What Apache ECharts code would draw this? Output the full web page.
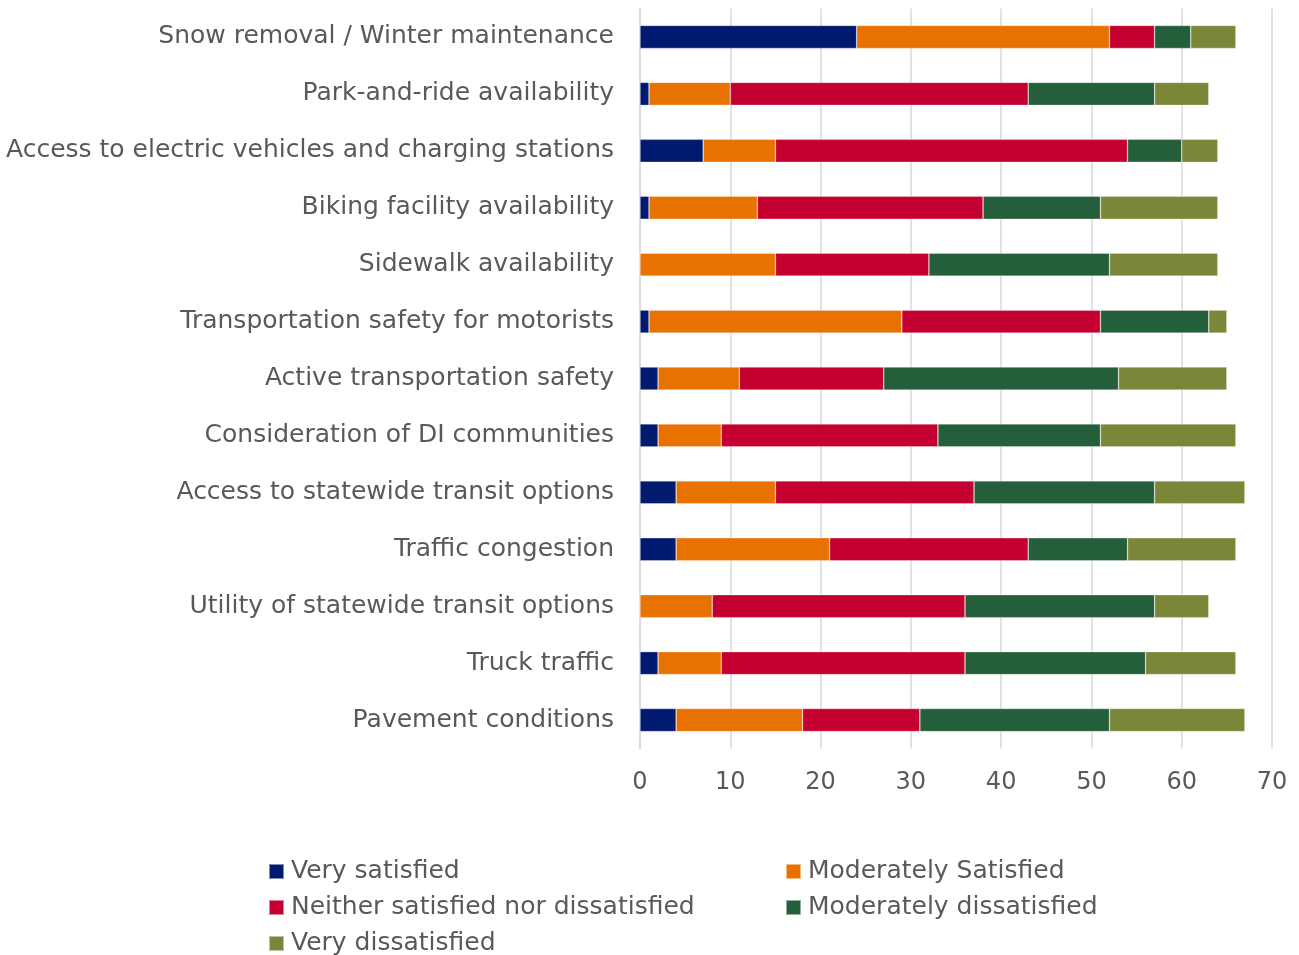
<!DOCTYPE html>
<html>
<head>
<meta charset="utf-8">
<script src="https://cdn.jsdelivr.net/npm/echarts@6/dist/echarts.min.js"></script>
<style>
  html, body { margin: 0; padding: 0; background: #fff; }
  #chart { width: 1299px; height: 955px; }
</style>
</head>
<body>
<div id="chart"></div>
<script>
// Survey topics, listed top to bottom
const categories = [
  'Snow removal / Winter maintenance',
  'Park-and-ride availability',
  'Access to electric vehicles and charging stations',
  'Biking facility availability',
  'Sidewalk availability',
  'Transportation safety for motorists',
  'Active transportation safety',
  'Consideration of DI communities',
  'Access to statewide transit options',
  'Traffic congestion',
  'Utility of statewide transit options',
  'Truck traffic',
  'Pavement conditions'
];

// Response counts per topic
const verySatisfied       = [24, 1, 7, 1, 0, 1, 2, 2, 4, 4, 0, 2, 4];
const moderatelySatisfied = [28, 9, 8, 12, 15, 28, 9, 7, 11, 17, 8, 7, 14];
const neither             = [5, 33, 39, 25, 17, 22, 16, 24, 22, 22, 28, 27, 13];
const moderatelyDiss      = [4, 14, 6, 13, 20, 12, 26, 18, 20, 11, 21, 20, 21];
const veryDissatisfied    = [5, 6, 4, 13, 12, 2, 12, 15, 10, 12, 6, 10, 15];

const xTicks = [0, 10, 20, 30, 40, 50, 60, 70];

const seriesNames = [
  'Very satisfied',
  'Moderately Satisfied',
  'Neither satisfied nor dissatisfied',
  'Moderately dissatisfied',
  'Very dissatisfied'
];
const seriesData = [verySatisfied, moderatelySatisfied, neither, moderatelyDiss, veryDissatisfied];
const colors = ['#001a70', '#e87200', '#c40030', '#245e3b', '#7b8638'];

const FONT = 'DejaVu Sans';
const TEXT = '#595959';

const chart = echarts.init(document.getElementById('chart'), null, { renderer: 'canvas' });

// One legend block per entry so the two-column layout is fixed
const legendSpots = [
  { left: 268, top: 859 },
  { left: 785, top: 859 },
  { left: 268, top: 895 },
  { left: 785, top: 895 },
  { left: 268, top: 931 }
];
const legends = seriesNames.map((name, i) => ({
  data: [name],
  left: legendSpots[i].left,
  top: legendSpots[i].top,
  icon: 'rect',
  itemWidth: 15,
  itemHeight: 15,
  selectedMode: false,
  padding: 0,
  textStyle: { color: TEXT, fontSize: 25, fontFamily: FONT, padding: [0, 0, 0, 2] }
}));

chart.setOption({
  animation: false,
  color: colors,
  legend: legends,
  grid: { left: 640, right: 27, top: 8.5, bottom: 206.5, containLabel: false },
  xAxis: {
    type: 'value',
    min: xTicks[0],
    max: xTicks[xTicks.length - 1],
    interval: 10,
    axisLine: { show: false },
    axisTick: { show: false },
    splitLine: { show: true, lineStyle: { color: '#d9d9d9', width: 1.5 } },
    axisLabel: { color: TEXT, fontSize: 24, fontFamily: FONT, margin: 22 }
  },
  yAxis: {
    type: 'category',
    data: categories,
    inverse: true,
    axisLine: { show: true, lineStyle: { color: '#d9d9d9', width: 1.5 } },
    axisTick: { show: false },
    axisLabel: { color: TEXT, fontSize: 25, fontFamily: FONT, margin: 26, padding: [8, 0, 0, 0] }
  },
  series: seriesNames.map((name, i) => ({
    name,
    type: 'bar',
    stack: 'total',
    data: seriesData[i],
    barWidth: 23,
    itemStyle: { color: colors[i], borderColor: 'rgba(255,255,255,0.5)', borderWidth: 0.6 }
  }))
});
</script>
</body>
</html>
